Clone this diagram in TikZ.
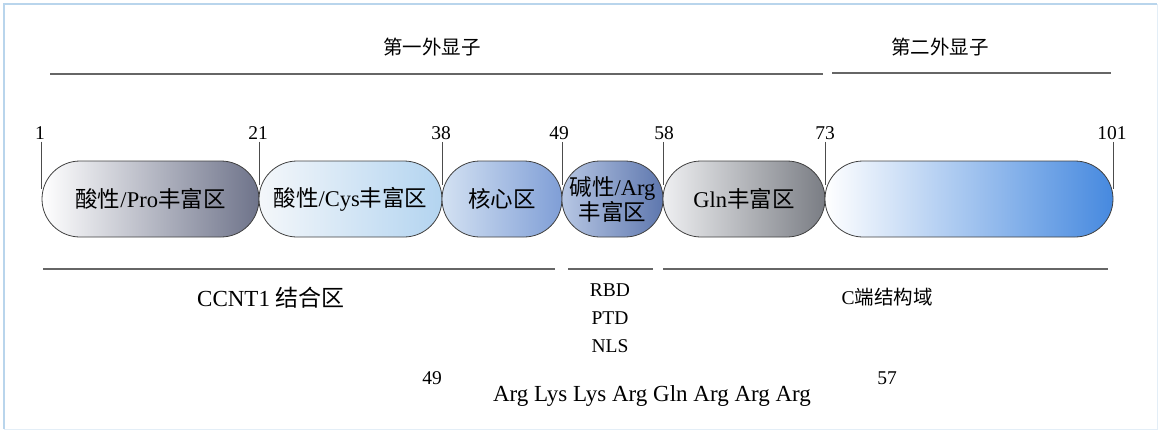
\documentclass[tikz,border=0pt]{standalone}
\usepackage{fontspec}
\setmainfont{Liberation Serif}
\newfontfamily\cjk{Noto Sans CJK SC}
\newcommand{\zh}[1]{{\cjk #1}}
\usetikzlibrary{shapes.misc}
\definecolor{frameblue}{HTML}{B9D5EC}
\definecolor{cAr}{RGB}{110,115,138}
\definecolor{cBl}{HTML}{F4F7FA}
\definecolor{cBr}{HTML}{B3D4F0}
\definecolor{cCl}{HTML}{D3E1F2}
\definecolor{cCr}{HTML}{7F9ED6}
\definecolor{cDl}{HTML}{B7C7E4}
\definecolor{cDr}{HTML}{5E77AE}
\definecolor{cEl}{HTML}{EEEFF1}
\definecolor{cEr}{HTML}{7A7D84}
\definecolor{cFr}{HTML}{4689DF}
\begin{document}
\begin{tikzpicture}[x=1pt,y=-1pt,
  every node/.style={inner sep=0pt},
  capsule/.style={rounded rectangle, draw=black!75, line width=0.8pt,
    minimum height=76pt, inner sep=0pt, align=center,
    font=\fontsize{22.5}{25}\selectfont},
  numlbl/.style={font=\fontsize{19.5}{20}\selectfont},
  lbl/.style={font=\fontsize{19.5}{20}\selectfont},
  biglbl/.style={font=\fontsize{23}{24}\selectfont},
  ticks/.style={draw=black!70, line width=0.8pt},
  rule/.style={draw=black!60, line width=1.3pt}]
\useasboundingbox (0,0) rectangle (1162,432);
\draw[frameblue, line width=2pt] (4,429) -- (4,4) -- (1157,4);
\draw[frameblue!40, line width=1pt] (1157,4) -- (1157,429) -- (4,429);

% exon labels and rules
\node[lbl] (ex1) at (432,47) {\zh{第一外显子}};
\node[lbl] (ex2) at (940,47) {\zh{第二外显子}};
\draw[rule] (50,74) -- (823,74);
\draw[rule] (832,73) -- (1111,73);

% capsules
\node[capsule, minimum width=217pt, left color=white, right color=cAr] (c1) at (150.5,199) {\zh{酸性}/Pro\zh{丰富区}};
\node[capsule, minimum width=183pt, left color=cBl, right color=cBr] (c2) at (350.5,199) {\zh{酸性}/Cys\zh{丰富区}};
\node[capsule, minimum width=120pt, left color=cCl, right color=cCr] (c3) at (502,199) {\zh{核心区}};
\node[capsule, minimum width=101pt, left color=cDl, right color=cDr] (c4) at (612.5,199) {\zh{碱性}/Arg\\\zh{丰富区}};
\node[capsule, minimum width=162pt, left color=cEl, right color=cEr] (c5) at (744,199) {Gln\zh{丰富区}};
\node[capsule, minimum width=288pt, left color=white, right color=cFr] (c6) at (969,199) {};

% position numbers
\node[numlbl] (n1) at (40,133) {1};
\node[numlbl] (n21) at (258,133) {21};
\node[numlbl] (n38) at (441,133) {38};
\node[numlbl] (n49) at (559,133) {49};
\node[numlbl] (n58) at (664,133) {58};
\node[numlbl] (n73) at (825,133) {73};
\node[numlbl] (n101) at (1112,133) {101};

\draw[ticks, shorten >=10pt] ([yshift=-2pt]n1.south -| c1.west) -- (c1.west);
\draw[ticks, shorten >=14pt] ([yshift=-2pt]n21.south -| c1.east) -- (c1.east);
\draw[ticks, shorten >=14pt] ([yshift=-2pt]n38.south -| c2.east) -- (c2.east);
\draw[ticks, shorten >=14pt] ([yshift=-2pt]n49.south -| c3.east) -- (c3.east);
\draw[ticks, shorten >=14pt] ([yshift=-2pt]n58.south -| c4.east) -- (c4.east);
\draw[ticks, shorten >=14pt] ([yshift=-2pt]n73.south -| c5.east) -- (c5.east);
\draw[ticks, shorten >=10pt] ([yshift=-2pt]n101.south -| c6.east) -- (c6.east);

% lower rules
\draw[rule] (43,269) -- (555,269);
\draw[rule] (568,269) -- (653,269);
\draw[rule] (663,269) -- (1108,269);

% lower labels
\node[biglbl] (ccnt) at (271,298) {CCNT1 \zh{结合区}};
\node[lbl] (rbd) at (610,290) {RBD};
\node[lbl] (ptd) at (610,318) {PTD};
\node[lbl] (nls) at (610,346) {NLS};
\node[lbl] (cterm) at (887,297) {C\zh{端结构域}};
\node[lbl] (p49) at (432,378) {49};
\node[lbl] (p57) at (887,378) {57};
\node[biglbl] (seq) at (652,396) {Arg Lys Lys Arg Gln Arg Arg Arg};
\end{tikzpicture}
\end{document}
